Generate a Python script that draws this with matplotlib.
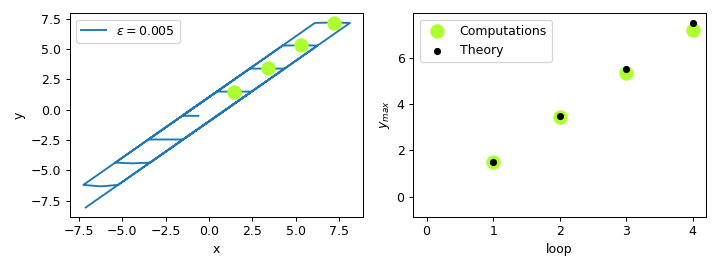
import matplotlib
matplotlib.use("Agg")
import matplotlib.pyplot as plt

# Trajectory (left panel)
path_x = [-7.11, 8.12, 7.10, 6.10, -7.25, -6.25, -5.25, 6.25, 5.25, 4.25, -5.40, -4.40, -3.40,
          4.35, 2.35, -3.50, -1.50, 2.45, 0.45, -1.55, -0.62]
path_y = [-8.06, 7.17, 7.20, 7.17, -6.20, -6.32, -6.20, 5.30, 5.32, 5.30, -4.36, -4.42, -4.36,
          3.40, 3.40, -2.45, -2.45, 1.50, 1.50, -0.50, -0.50]
peak_x = [1.46, 3.38, 5.31, 7.18]
peak_y = [1.50, 3.45, 5.33, 7.20]

# Right panel
loops = [1, 2, 3, 4]
ymax_comp = [1.49, 3.45, 5.36, 7.21]
ymax_theory = [1.5, 3.5, 5.5, 7.5]

fig = plt.figure(figsize=(8, 3), dpi=90)
ax1 = fig.add_axes([70/720, 1-216.7/270, (363.3-70)/720, (216.7-13.3)/270])
ax2 = fig.add_axes([413.3/720, 1-216.7/270, (706-413.3)/720, (216.7-13.3)/270])

ax1.plot(path_x, path_y, color='#1f77b4', lw=1.5, label=r'$\varepsilon = 0.005$')
ax1.scatter(peak_x, peak_y, s=110, color='greenyellow', zorder=3)
ax1.set_xlabel('x')
ax1.set_ylabel('y')
ax1.set_xticks([-7.5, -5.0, -2.5, 0.0, 2.5, 5.0, 7.5])
ax1.set_yticks([-7.5, -5.0, -2.5, 0.0, 2.5, 5.0, 7.5])
ax1.legend(loc='upper left')

ax2.scatter(loops, ymax_comp, s=110, color='greenyellow', label='Computations')
ax2.scatter(loops, ymax_theory, s=22, color='black', label='Theory')
ax2.set_xlim(-0.2, 4.2)
ax2.set_ylim(-0.86, 7.92)
ax2.set_xticks([0, 1, 2, 3, 4])
ax2.set_yticks([0, 2, 4, 6])
ax2.set_xlabel('loop')
ax2.set_ylabel(r'$y_{max}$')
ax2.legend(loc='upper left')

fig.savefig('out.png', dpi=90)
